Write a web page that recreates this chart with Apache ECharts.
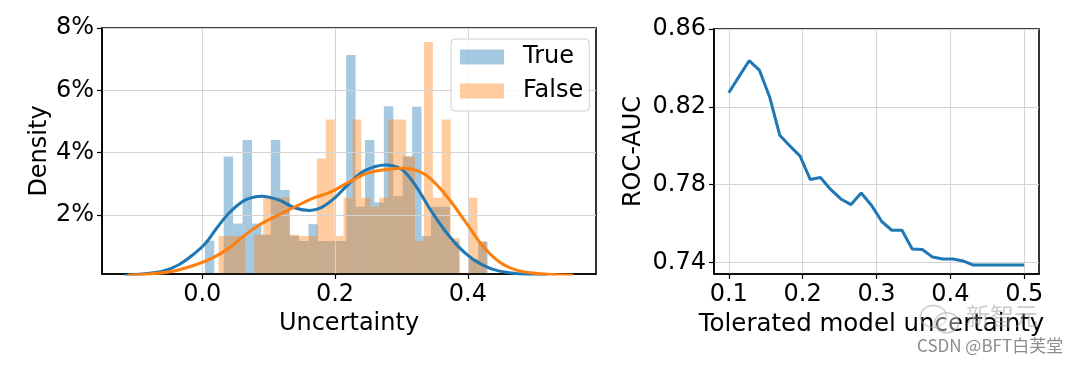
<!DOCTYPE html>
<html><head><meta charset="utf-8">
<script src="https://cdn.jsdelivr.net/npm/echarts@6/dist/echarts.min.js"></script>
<style>html,body{margin:0;padding:0;background:#fff}#c{width:1080px;height:366px}</style>
</head><body><div id="c"></div><script>
// ---------- data ----------
// Histogram "True": 30 bins
const trueBinStart = 0.0039;
const trueBinWidth = 0.01419;
const trueHeights = [1.17,0,3.87,1.72,4.40,1.72,1.36,4.40,2.80,1.32,1.16,1.70,1.16,1.16,1.16,7.13,2.26,4.40,2.40,5.49,2.60,3.87,5.47,1.32,2.26,2.26,1.16,0,0.58,1.13];
// Histogram "False": 30 bins
const falseBinStart = 0.0245;
const falseBinWidth = 0.01345;
const falseHeights = [1.32,1.32,1.32,0,1.36,2.56,2.56,2.56,1.36,1.32,1.32,3.81,5.06,1.32,2.55,5.06,2.55,2.26,2.55,5.06,5.06,3.87,1.16,7.55,2.55,5.06,1.25,0,2.55,1.16];
// KDE curves [x, density %]
const trueKde = [[-0.117,0.06],[-0.09,0.10],[-0.061,0.18],[-0.036,0.39],[-0.011,0.77],[0.005,1.09],[0.02,1.52],[0.04,2.05],[0.065,2.48],[0.09,2.60],[0.115,2.48],[0.14,2.22],[0.162,2.14],[0.18,2.24],[0.2,2.55],[0.22,2.98],[0.244,3.41],[0.276,3.60],[0.30,3.46],[0.32,2.98],[0.345,2.12],[0.37,1.37],[0.396,0.77],[0.421,0.40],[0.446,0.20],[0.48,0.10],[0.52,0.06]];
const falseKde = [[-0.112,0.06],[-0.08,0.10],[-0.046,0.18],[-0.011,0.39],[0.015,0.61],[0.04,0.93],[0.065,1.36],[0.09,1.73],[0.115,2.0],[0.14,2.26],[0.166,2.53],[0.192,2.72],[0.219,3.03],[0.244,3.30],[0.269,3.43],[0.304,3.50],[0.325,3.41],[0.345,3.14],[0.37,2.55],[0.396,1.79],[0.421,1.04],[0.446,0.51],[0.472,0.23],[0.497,0.13],[0.53,0.08],[0.559,0.06]];
const histTicks = [0, 0.2, 0.4];
const densityTicks = [2, 4, 6, 8];
// ROC-AUC vs tolerated model uncertainty (30 thresholds from 0.1 to 0.5)
const tolerance = [0.1,0.1138,0.1276,0.1414,0.1552,0.1690,0.1828,0.1966,0.2103,0.2241,0.2379,0.2517,0.2655,0.2793,0.2931,0.3069,0.3207,0.3345,0.3483,0.3621,0.3759,0.3897,0.4034,0.4172,0.4310,0.4448,0.4586,0.4724,0.4862,0.5];
const rocAuc = [0.8272,0.8355,0.8437,0.8389,0.8252,0.8054,0.7998,0.7946,0.7826,0.7836,0.7775,0.7726,0.7697,0.7757,0.7694,0.7611,0.7565,0.7565,0.7469,0.7466,0.7427,0.7417,0.7417,0.7407,0.7386,0.7386,0.7386,0.7386,0.7386,0.7386];
const tolTicks = [0.1,0.2,0.3,0.4,0.5];
const aucTicks = [0.74,0.78,0.82,0.86];

// ---------- chart ----------
const FF = 'DejaVu Sans';
const BLUE = '#1f77b4', ORANGE = '#ff7f0e';
const BLUE_A = 'rgba(31,119,180,0.4)', ORANGE_A = 'rgba(255,127,14,0.4)';
const chart = echarts.init(document.getElementById('c'), null, {renderer:'canvas'});

function histData(start, width, heights){
  return heights.map((h,i)=>[start+i*width, start+(i+1)*width, h]);
}
function histSeries(name, data, color){
  return {
    type:'custom', name, xAxisIndex:0, yAxisIndex:0, z:2,
    itemStyle:{color},
    encode:{x:[0,1], y:2},
    data,
    renderItem(params, api){
      const h = api.value(2);
      if (!h) return null;
      const p0 = api.coord([api.value(0), h]);
      const p1 = api.coord([api.value(1), 0]);
      const shape = echarts.graphic.clipRectByRect(
        {x:p0[0], y:p0[1], width:p1[0]-p0[0], height:p1[1]-p0[1]}, params.coordSys);
      if (!shape) return null;
      return {type:'rect', shape, style:{fill:color}};
    }
  };
}
const axisText = {fontFamily:FF, fontSize:24, color:'#000'};
function valAxis(extra){
  return Object.assign({
    type:'value', z:3,
    axisLine:{show:true, onZero:false, lineStyle:{color:'#000', width:1.6}},
    axisTick:{show:true, length:5, lineStyle:{color:'#000', width:1.2}},
    splitLine:{show:true, lineStyle:{color:'#d4d4d4', width:1}},
    nameLocation:'middle',
    nameTextStyle:axisText
  }, extra);
}

chart.setOption({
  animation:false,
  backgroundColor:'#fff',
  grid:[
    {left:102, right:484, top:28, bottom:92, show:true, borderColor:'#000', borderWidth:1.6, backgroundColor:'transparent'},
    {left:714, right:41, top:29, bottom:92, show:true, borderColor:'#000', borderWidth:1.6, backgroundColor:'transparent'}
  ],
  xAxis:[
    valAxis({gridIndex:0, min:-0.151, max:0.593, name:'Uncertainty', nameGap:35,
      axisTick:{show:true, length:5, lineStyle:{color:'#000', width:1.2}, customValues:histTicks},
      axisLabel:Object.assign({customValues:histTicks, margin:9, formatter:v=>v.toFixed(1)}, axisText)}),
    valAxis({gridIndex:1, min:0.08, max:0.52, name:'Tolerated model uncertainty', nameGap:35,
      nameTextStyle:{fontFamily:FF, fontSize:24.5, color:'#000', padding:[0,10,0,0]},
      axisTick:{show:true, length:5, lineStyle:{color:'#000', width:1.2}, customValues:tolTicks},
      axisLabel:Object.assign({customValues:tolTicks, margin:9, formatter:v=>v.toFixed(1)}, axisText)})
  ],
  yAxis:[
    valAxis({gridIndex:0, min:0.1, max:8, name:'Density', nameGap:48,
      axisTick:{show:true, length:5, lineStyle:{color:'#000', width:1.2}, customValues:densityTicks},
      axisLabel:Object.assign({customValues:densityTicks, margin:8, formatter:v=>Math.round(v)+'%'}, axisText)}),
    valAxis({gridIndex:1, min:0.734, max:0.86, name:'ROC-AUC', nameGap:68,
      axisTick:{show:true, length:5, lineStyle:{color:'#000', width:1.2}, customValues:aucTicks},
      axisLabel:Object.assign({customValues:aucTicks, margin:8, formatter:v=>v.toFixed(2)}, axisText)})
  ],
  legend:{
    orient:'vertical', left:451, top:39,
    padding:[6,6,8,9], itemGap:10, itemWidth:44, itemHeight:15,
    backgroundColor:'rgba(255,255,255,0.8)', borderColor:'#d0d0d0', borderWidth:1, borderRadius:4,
    textStyle:{fontFamily:FF, fontSize:24, color:'#000', padding:[0,0,0,14]},
    data:[
      {name:'True', icon:'rect', itemStyle:{color:BLUE_A}},
      {name:'False', icon:'rect', itemStyle:{color:ORANGE_A}}
    ]
  },
  series:[
    histSeries('True', histData(trueBinStart, trueBinWidth, trueHeights), BLUE_A),
    histSeries('False', histData(falseBinStart, falseBinWidth, falseHeights), ORANGE_A),
    {type:'line', name:'True KDE', xAxisIndex:0, yAxisIndex:0, z:5, data:trueKde, smooth:0.35,
      showSymbol:false, symbol:'none', lineStyle:{color:BLUE, width:3}, itemStyle:{color:BLUE}},
    {type:'line', name:'False KDE', xAxisIndex:0, yAxisIndex:0, z:5, data:falseKde, smooth:0.35,
      showSymbol:false, symbol:'none', lineStyle:{color:ORANGE, width:3}, itemStyle:{color:ORANGE}},
    {type:'line', name:'ROC-AUC', xAxisIndex:1, yAxisIndex:1, z:5,
      data:tolerance.map((t,i)=>[t, rocAuc[i]]),
      showSymbol:false, symbol:'none', lineStyle:{color:BLUE, width:3}, itemStyle:{color:BLUE}}
  ],
  graphic:[
    {type:'ellipse', left:918, top:303, shape:{cx:0, cy:0, rx:13, ry:11}, style:{fill:'none', stroke:'rgba(170,170,170,0.6)', lineWidth:1.5}, z:100},
    {type:'ellipse', left:934, top:312, shape:{cx:0, cy:0, rx:12, ry:10}, style:{fill:'rgba(255,255,255,0.4)', stroke:'rgba(170,170,170,0.6)', lineWidth:1.5}, z:100},
    {type:'text', left:966, top:304, style:{text:'新智元', fontFamily:'Noto Sans CJK SC', fontSize:24, fill:'rgba(160,160,160,0.55)'}, z:100},
    {type:'text', left:917, top:337, style:{text:'CSDN @BFT白芙堂', fontFamily:'Noto Sans CJK SC', fontSize:17, fill:'#8c8c8c'}, z:100}
  ]
});
</script></body></html>
